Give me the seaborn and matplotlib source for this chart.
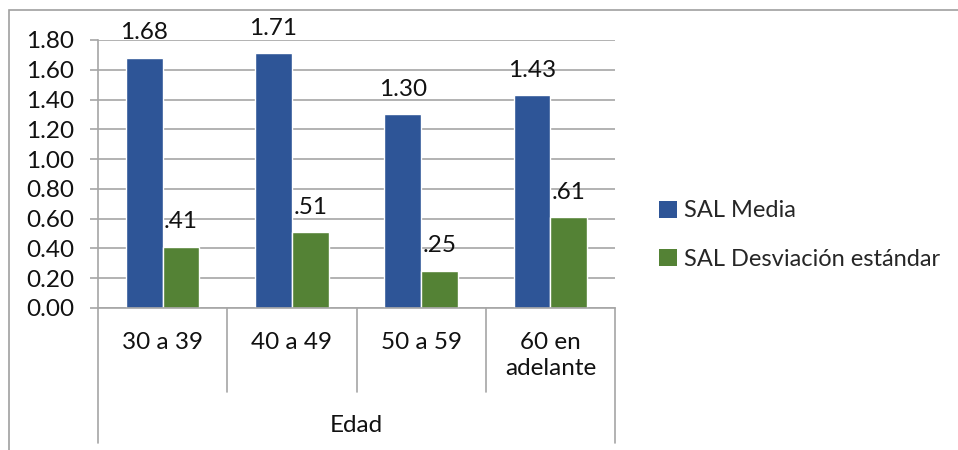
import matplotlib
matplotlib.use("Agg")
import matplotlib.pyplot as plt
from matplotlib.patches import Patch, Rectangle
from matplotlib.lines import Line2D
import seaborn as sns
import pandas as pd

# Data
categories = ["30 a 39", "40 a 49", "50 a 59", "60 en\nadelante"]
media = [1.68, 1.71, 1.30, 1.43]
desviacion = [0.41, 0.51, 0.25, 0.61]
series_names = ["SAL Media", "SAL Desviación estándar"]
axis_title = "Edad"
y_ticks = [0.0, 0.2, 0.4, 0.6, 0.8, 1.0, 1.2, 1.4, 1.6, 1.8]

colors = ["#2E5597", "#548235"]
grid_col = "#A6A6A6"
txt_col = "#111111"
fs = 17.5

sns.set_theme(style="white")
plt.rcParams["font.family"] = ["Lato", "DejaVu Sans"]

df = pd.DataFrame({
    "cat": categories * 2,
    "serie": [series_names[0]] * 4 + [series_names[1]] * 4,
    "valor": media + desviacion,
})

W, H = 958, 450
fig = plt.figure(figsize=(W / 100, H / 100), dpi=100)
ax = fig.add_axes([98 / W, 1 - 308 / H, (615 - 98) / W, (308 - 40) / H])

sns.barplot(data=df, x="cat", y="valor", hue="serie", order=categories,
            hue_order=series_names, palette=colors, width=0.57,
            saturation=1, errorbar=None, ax=ax, legend=False)

ax.set_ylim(0, 1.8)
ax.set_xlim(-0.5, len(categories) - 0.5)
ax.set_yticks(y_ticks)
ax.set_yticklabels([f"{t:.2f}" for t in y_ticks], fontsize=fs, color=txt_col)
ax.yaxis.grid(True, color=grid_col, lw=1.2)
ax.set_axisbelow(True)
ax.tick_params(axis="y", length=6, width=1.2, color=grid_col, pad=11, left=True)
ax.set_xticks([])
ax.set_xlabel("")
ax.set_ylabel("")
for s in ["top", "right"]:
    ax.spines[s].set_visible(False)
for s in ["left", "bottom"]:
    ax.spines[s].set_color(grid_col)
    ax.spines[s].set_linewidth(1.2)

# value labels above bars
def fmt(v):
    s = f"{v:.2f}"
    return s[1:] if s.startswith("0") else s

for cont, vals in zip(ax.containers, [media, desviacion]):
    for bar, v in zip(cont, vals):
        ax.annotate(fmt(v), (bar.get_x() + bar.get_width() / 2, bar.get_height()),
                    xytext=(0, 18), textcoords="offset points",
                    ha="center", va="center", fontsize=fs, color=txt_col,
                    annotation_clip=False)

# two-level category axis
tr = ax.get_xaxis_transform()
n = len(categories)
for i in range(n + 1):
    x = i - 0.5
    low = -0.504 if i in (0, n) else -0.313
    ax.add_line(Line2D([x, x], [0, low], transform=tr, color=grid_col,
                       lw=1.2, clip_on=False))
for i, c in enumerate(categories):
    ax.text(i, -0.088, c, transform=tr, ha="center", va="top",
            fontsize=fs, color=txt_col, linespacing=1.3)
ax.text((n - 1) / 2, -0.437, axis_title, transform=tr, ha="center",
        va="center", fontsize=fs, color=txt_col)

# legend
handles = [Patch(facecolor=c, edgecolor="none") for c in colors]
fig.legend(handles, series_names, loc="center left",
           bbox_to_anchor=(638 / W, 1 - 235 / H), frameon=False,
           fontsize=17, handlelength=0.75, handleheight=0.75,
           handletextpad=0.3, labelspacing=1.15)

# chart frame
fig.add_artist(Rectangle((9 / W, -0.1), 1.2, 1 - 10 / H + 0.1,
                         transform=fig.transFigure, fill=False,
                         edgecolor="#A0A0A0", lw=1.2))

fig.savefig("out.png", dpi=100, facecolor="white")
